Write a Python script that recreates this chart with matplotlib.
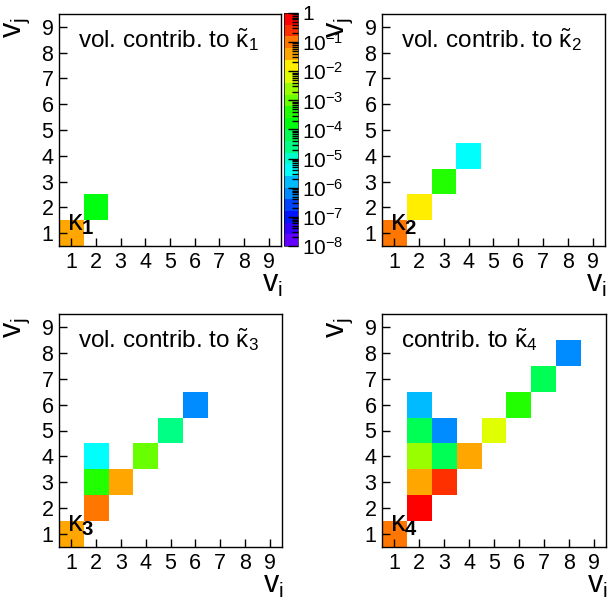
"""Volume contributions to the cumulants kappa_1..kappa_4 — 2x2 map of (v_i, v_j) cells, log colour scale."""
import colorsys

import numpy as np
import matplotlib
matplotlib.use("Agg")
import matplotlib.pyplot as plt
from matplotlib.colors import ListedColormap, LogNorm
from matplotlib.ticker import FixedLocator, LogLocator, NullFormatter

plt.rcParams["font.family"] = ["Liberation Sans", "DejaVu Sans"]
plt.rcParams["mathtext.fontset"] = "custom"
plt.rcParams["mathtext.rm"] = "Liberation Sans"
plt.rcParams["mathtext.it"] = "Liberation Sans:italic"
plt.rcParams["mathtext.bf"] = "Liberation Sans:bold"
plt.rcParams["mathtext.default"] = "regular"

# --- data: cells (v_i, v_j) and their contribution ---
k1_i = [1, 2]
k1_j = [1, 2]
k1_val = [0.04, 1.6e-4]

k2_i = [1, 2, 3, 4]
k2_j = [1, 2, 3, 4]
k2_val = [0.1, 0.016, 4e-4, 4e-6]

k3_i = [1, 2, 2, 2, 3, 4, 5, 6]
k3_j = [1, 2, 3, 4, 3, 4, 5, 6]
k3_val = [0.04, 0.1, 4e-4, 4e-6, 0.04, 1e-3, 2.5e-5, 6e-7]

k4_i = [1, 2, 2, 2, 2, 2, 3, 3, 3, 4, 5, 6, 7, 8]
k4_j = [1, 2, 3, 4, 5, 6, 3, 4, 5, 4, 5, 6, 7, 8]
k4_val = [0.1, 0.6, 0.04, 2.5e-3, 6e-5, 1.6e-6, 0.25, 6e-5, 6e-7, 0.04, 6e-3, 4e-4, 6e-5, 6e-7]

titles = [r"vol. contrib. to $\tilde{\kappa}_{1}$", r"vol. contrib. to $\tilde{\kappa}_{2}$",
          r"vol. contrib. to $\tilde{\kappa}_{3}$", r"contrib. to $\tilde{\kappa}_{4}$"]
kap_labels = [r"$\kappa_{\mathbf{1}}$", r"$\kappa_{\mathbf{2}}$", r"$\kappa_{\mathbf{3}}$", r"$\kappa_{\mathbf{4}}$"]
nbins = 9
zmin, zmax = 1e-8, 1.0
cb_ticks = [1e-8, 1e-7, 1e-6, 1e-5, 1e-4, 1e-3, 1e-2, 1e-1, 1]
cb_labels = [r"$10^{-8}$", r"$10^{-7}$", r"$10^{-6}$", r"$10^{-5}$", r"$10^{-4}$",
             r"$10^{-3}$", r"$10^{-2}$", r"$10^{-1}$", "1"]

# ROOT "pretty" palette (violet -> red), 20 contour levels
ncont = 20
pal = []
for k in range(ncont):
    p = int((k + 0.99) * 50 / ncont)
    if p >= 49:
        pal.append((1.0, 0.0, 0.0))
    else:
        pal.append(colorsys.hls_to_rgb((280 - (p + 1) * 5.6) / 360, 0.5, 1.0))
cmap = ListedColormap(pal)
cmap.set_bad("white")
norm = LogNorm(vmin=zmin, vmax=zmax)

W, H = 609, 598
fig = plt.figure(figsize=(W / 100, H / 100), dpi=100)


def px_axes(l, r, t, b):
    return fig.add_axes([l / W, 1 - b / H, (r - l) / W, (b - t) / H])


boxes = [(59, 281, 14, 246), (382, 605, 14, 246), (59, 282, 314, 547), (382, 606, 314, 547)]
cells = [(k1_i, k1_j, k1_val), (k2_i, k2_j, k2_val), (k3_i, k3_j, k3_val), (k4_i, k4_j, k4_val)]
edges = np.arange(nbins + 1) + 0.5

mesh = None
for n, (box, (ci, cj, cv)) in enumerate(zip(boxes, cells)):
    ax = px_axes(*box)
    Z = np.full((nbins, nbins), np.nan)
    for i, j, v in zip(ci, cj, cv):
        Z[j - 1, i - 1] = v
    mesh = ax.pcolormesh(edges, edges, np.ma.masked_invalid(Z), cmap=cmap, norm=norm)
    ax.set_xlim(0.5, 9.5); ax.set_ylim(0.5, 9.5)
    ax.set_xticks(range(1, 10)); ax.set_yticks(range(1, 10))
    ax.tick_params(direction="in", length=5.5, width=1, labelsize=15.5, pad=4,
                   top=False, right=False)
    for s in ax.spines.values():
        s.set_linewidth(1)
    ax.text(0.086, 0.857, titles[n], transform=ax.transAxes, fontsize=17.5, va="baseline")
    ax.text(0.84, 1.12, kap_labels[n], fontsize=21, va="baseline")
    l, r, t, b = box
    fig.text((r + 2) / W, 1 - (b + 46) / H, r"$v_{i}$", fontsize=22, ha="right", va="baseline")
    fig.text((l - 42) / W, 1 - (t + 3) / H, r"$v_{j}$", fontsize=22, rotation=90, ha="center", va="top")

# colour scale
cax = px_axes(284, 298, 13, 246)
cb = fig.colorbar(mesh, cax=cax)
cb.outline.set_linewidth(0.5)
cb.set_ticks(cb_ticks, labels=cb_labels)
cax.yaxis.set_minor_locator(LogLocator(base=10, subs=np.arange(2, 10), numticks=50))
cax.yaxis.set_minor_formatter(NullFormatter())
cax.tick_params(which="major", direction="in", length=7, width=1, labelsize=15, pad=3,
                color="black", zorder=5)
cax.tick_params(which="minor", direction="in", length=4, width=1, color="black")

fig.savefig("out.png", dpi=100)
plt.close(fig)
